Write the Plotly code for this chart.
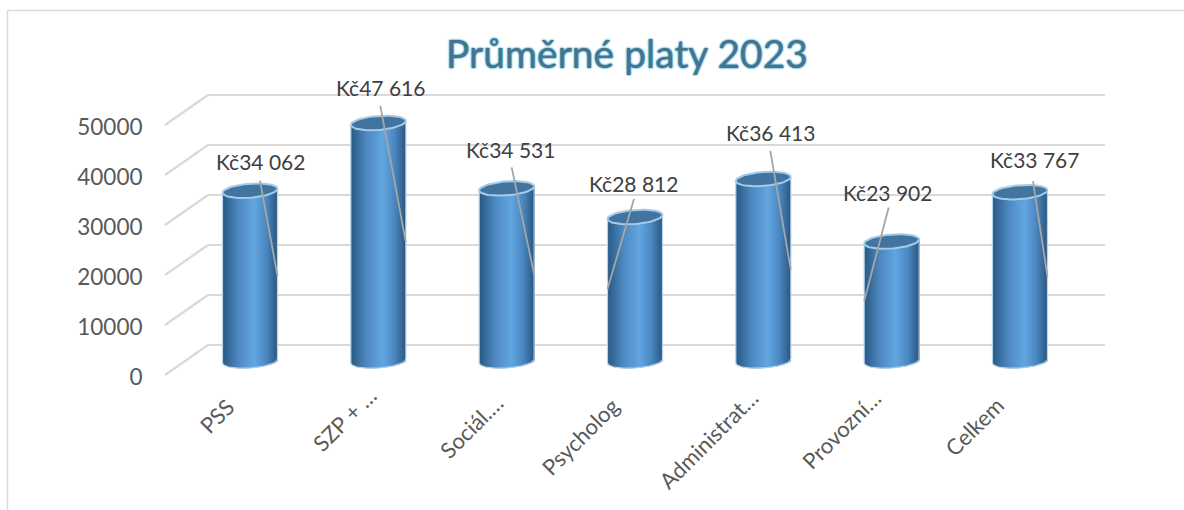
import math
import plotly.graph_objects as go

categories = ["PSS", "SZP + …", "Sociál.…", "Psycholog", "Administrat…", "Provozní…", "Celkem"]
values = [34062, 47616, 34531, 28812, 36413, 23902, 33767]
value_labels = ["Kč34 062", "Kč47 616", "Kč34 531", "Kč28 812", "Kč36 413", "Kč23 902", "Kč33 767"]
y_ticks = [0, 10000, 20000, 30000, 40000, 50000]
title_text = "Průměrné platy 2023"

W, H = 1184, 510
X0_PX, DX_PX = 250.0, 128.33        # first bar centre, spacing between bars
Y0_PX, UNITS_PER_PX = 361.0, 200.0  # zero line of the bar plane, value units per pixel
FRONT_PX, BACK_PX = 14, 16          # perspective offset of front and back planes
WALL_DX = 43 / DX_PX                # depth of the left wall in category units

BAR_RX, CAP_RY, TILT = 27.5, 7.0, 2.0
N_STRIPS = 55

# annotation offset of each value label from the bar top, in px
label_dx = [10, 2, 4, -1, 7, -4, 15]
label_dy = [29, 35, 39, 33, 46, 49, 33]
leader_gap = [10, 17, 21, 18, 28, 34, 11]
leader_start_dx = [10, 2, 5, -1, 7, -3, 13]
leader_side = [1, 1, 1, -1, 1, -1, 1]

# centre of each rotated category label, px
cat_cx = [216, 344, 471, 580, 708, 841, 974]
cat_cy = [416, 419, 426, 436, 439, 429, 426]

GRADIENT = [(0.0, (40, 90, 133)), (0.10, (54, 105, 152)), (0.28, (77, 136, 192)),
            (0.58, (98, 166, 226)), (0.80, (74, 135, 192)), (0.93, (54, 104, 150)),
            (1.0, (42, 88, 128))]


def grad(u):
    for (a, ca), (b, cb) in zip(GRADIENT, GRADIENT[1:]):
        if a <= u <= b:
            f = (u - a) / (b - a)
            return "rgb(%d,%d,%d)" % tuple(round(p + (q - p) * f) for p, q in zip(ca, cb))
    return "rgb(42,88,128)"


x_range = [-X0_PX / DX_PX, (W - X0_PX) / DX_PX]
y_range = [(Y0_PX - H) * UNITS_PER_PX, Y0_PX * UNITS_PER_PX]
y2_range = [r + FRONT_PX * UNITS_PER_PX for r in y_range]

fig = go.Figure()
grey = "#d9d9d9"
idx = list(range(len(values)))
front_shift = FRONT_PX * UNITS_PER_PX
back_shift = BACK_PX * UNITS_PER_PX
wall_x0 = (165 - X0_PX) / DX_PX
wall_x1 = wall_x0 + WALL_DX
grid_x1 = (1105 - X0_PX) / DX_PX

frame = dict(color=grey, width=1.5)
grid_line = dict(color=grey, width=2.2)
shapes = [
    dict(type="line", xref="paper", yref="paper", x0=7.5 / W, x1=1, y0=1 - 10.5 / H, y1=1 - 10.5 / H, line=frame),
    dict(type="line", xref="paper", yref="paper", x0=7.5 / W, x1=7.5 / W, y0=0, y1=1 - 10.5 / H, line=frame),
]
# walls and gridlines, drawn below the bars
for t in y_ticks:
    shapes.append(dict(type="line", xref="x", yref="y", layer="below", line=grid_line,
                       x0=wall_x0, x1=wall_x1, y0=t - front_shift, y1=t + back_shift))
    shapes.append(dict(type="line", xref="x", yref="y", layer="below", line=grid_line,
                       x0=wall_x1, x1=grid_x1, y0=t + back_shift, y1=t + back_shift))

# carrier of the value axis
fig.add_trace(go.Scatter(x=[wall_x0] * len(y_ticks), y=y_ticks, yaxis="y2", mode="markers",
                         marker=dict(opacity=0, size=1), hoverinfo="skip", showlegend=False))

# rim around the cylinders
bar_w = 2 * BAR_RX / DX_PX
for i, v in zip(idx, values):
    xs, ys = [], []
    for k in range(0, 41):
        t = -1 + k / 20
        xs.append(i + t * BAR_RX / DX_PX)
        ys.append(UNITS_PER_PX * (TILT * t - CAP_RY * math.sqrt(max(0, 1 - t * t))))
    xs = [i - bar_w / 2] + xs + [i + bar_w / 2]
    ys = [v - TILT * UNITS_PER_PX] + ys + [v + TILT * UNITS_PER_PX]
    fig.add_trace(go.Scatter(x=xs, y=ys, mode="lines", line=dict(color="#b5d4ef", width=1.2),
                             hoverinfo="skip", showlegend=False))

# cylinder bodies: overlapping vertical strips with a curved foot
w = bar_w / N_STRIPS
for s in range(N_STRIPS):
    u = (s + 0.5) / N_STRIPS
    t = 2 * u - 1
    base = UNITS_PER_PX * (TILT * t - CAP_RY * math.sqrt(1 - t * t))
    top = [v + UNITS_PER_PX * TILT * t for v in values]
    fig.add_trace(go.Bar(
        x=idx, y=[a - base for a in top], base=base,
        width=min(w * 2.5, bar_w - s * w),
        offset=-bar_w / 2 + s * w,
        marker=dict(color=grad(u), line=dict(width=0)),
        hoverinfo="skip", showlegend=False))

# caps
for i, v in zip(idx, values):
    xs, ys = [], []
    for k in range(61):
        a = 2 * math.pi * k / 60
        xs.append(i + BAR_RX * math.cos(a) / DX_PX)
        ys.append(v + UNITS_PER_PX * (TILT * math.cos(a) + CAP_RY * math.sin(a)))
    fig.add_trace(go.Scatter(x=xs, y=ys, mode="lines", fill="toself", fillcolor="#41759f",
                             line=dict(color="#a5cbea", width=2), hoverinfo="skip", showlegend=False))

# leader lines
for i, v in zip(idx, values):
    fig.add_trace(go.Scatter(
        x=[i + leader_start_dx[i] / DX_PX, i + leader_side[i] * BAR_RX / DX_PX],
        y=[v + leader_gap[i] * UNITS_PER_PX, v / 2],
        mode="lines", line=dict(color="#a6a6a6", width=1.8), hoverinfo="skip", showlegend=False))

annotations = []
for i, v in zip(idx, values):
    annotations.append(dict(x=i, y=v, text=value_labels[i], showarrow=False,
                            xshift=label_dx[i], yshift=label_dy[i],
                            font=dict(family="Lato", size=21, color="#404040")))
for i, c in enumerate(categories):
    annotations.append(dict(x=cat_cx[i] / W, y=1 - cat_cy[i] / H, xref="paper", yref="paper",
                            text=c, showarrow=False, textangle=-45,
                            xanchor="center", yanchor="middle",
                            font=dict(family="Lato", size=22, color="#595959")))

fig.update_layout(
    width=W, height=H, autosize=False,
    margin=dict(l=0, r=0, t=0, b=0),
    paper_bgcolor="white", plot_bgcolor="white",
    barmode="overlay", showlegend=False,
    title=dict(text=title_text, x=627 / W, y=1 - 54 / H, xanchor="center", yanchor="middle",
               xref="paper", yref="paper",
               font=dict(family="Lato", size=39, color="#4a7389",
                         shadow="0px 0px 2px #2fa6dc, 0px 0px 2px #2fa6dc")),
    xaxis=dict(range=x_range, showgrid=False, zeroline=False, showticklabels=False, ticks="", fixedrange=True),
    yaxis=dict(range=y_range, showgrid=False, zeroline=False, showticklabels=False, ticks="", fixedrange=True),
    yaxis2=dict(range=y2_range, overlaying="y", anchor="free", position=165 / W, side="left",
                tickvals=y_ticks, ticktext=[str(t) for t in y_ticks],
                showgrid=False, zeroline=False, showline=False,
                ticks="outside", ticklen=18, tickcolor="rgba(0,0,0,0)", ticklabelshift=2,
                tickfont=dict(family="Lato", size=22.5, color="#595959"), fixedrange=True),
    annotations=annotations, shapes=shapes,
)

fig.write_html("out.html", config={"displayModeBar": False},
               post_script="document.body.style.margin='0';")
